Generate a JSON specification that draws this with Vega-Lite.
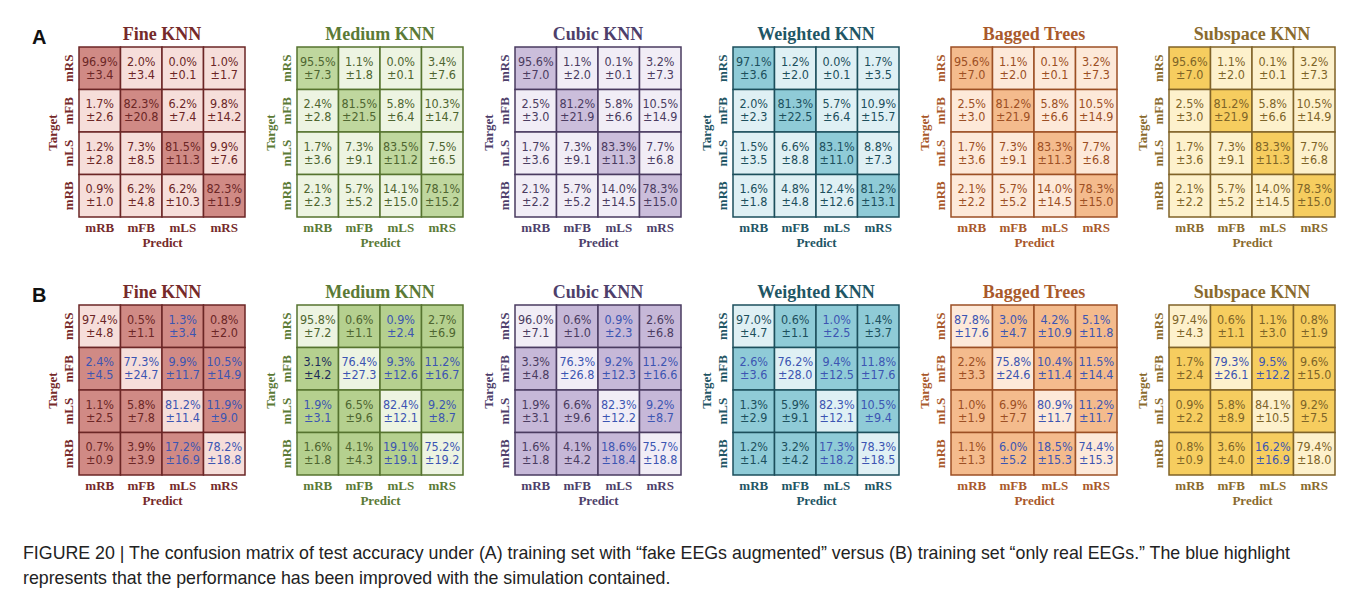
{
  "$schema": "https://vega.github.io/schema/vega-lite/v6.json",
  "background": "white",
  "padding": {"left": 23, "top": 26, "right": 10, "bottom": 2},
  "datasets": {
    "cm": [
      {"set":"A","model":"Fine KNN","t":"mRS","p":"mRB","m":96.9,"s":3.4,"imp":0},
      {"set":"A","model":"Fine KNN","t":"mRS","p":"mFB","m":2.0,"s":3.4,"imp":0},
      {"set":"A","model":"Fine KNN","t":"mRS","p":"mLS","m":0.0,"s":0.1,"imp":0},
      {"set":"A","model":"Fine KNN","t":"mRS","p":"mRS","m":1.0,"s":1.7,"imp":0},
      {"set":"A","model":"Fine KNN","t":"mFB","p":"mRB","m":1.7,"s":2.6,"imp":0},
      {"set":"A","model":"Fine KNN","t":"mFB","p":"mFB","m":82.3,"s":20.8,"imp":0},
      {"set":"A","model":"Fine KNN","t":"mFB","p":"mLS","m":6.2,"s":7.4,"imp":0},
      {"set":"A","model":"Fine KNN","t":"mFB","p":"mRS","m":9.8,"s":14.2,"imp":0},
      {"set":"A","model":"Fine KNN","t":"mLS","p":"mRB","m":1.2,"s":2.8,"imp":0},
      {"set":"A","model":"Fine KNN","t":"mLS","p":"mFB","m":7.3,"s":8.5,"imp":0},
      {"set":"A","model":"Fine KNN","t":"mLS","p":"mLS","m":81.5,"s":11.3,"imp":0},
      {"set":"A","model":"Fine KNN","t":"mLS","p":"mRS","m":9.9,"s":7.6,"imp":0},
      {"set":"A","model":"Fine KNN","t":"mRB","p":"mRB","m":0.9,"s":1.0,"imp":0},
      {"set":"A","model":"Fine KNN","t":"mRB","p":"mFB","m":6.2,"s":4.8,"imp":0},
      {"set":"A","model":"Fine KNN","t":"mRB","p":"mLS","m":6.2,"s":10.3,"imp":0},
      {"set":"A","model":"Fine KNN","t":"mRB","p":"mRS","m":82.3,"s":11.9,"imp":0},

      {"set":"A","model":"Medium KNN","t":"mRS","p":"mRB","m":95.5,"s":7.3,"imp":0},
      {"set":"A","model":"Medium KNN","t":"mRS","p":"mFB","m":1.1,"s":1.8,"imp":0},
      {"set":"A","model":"Medium KNN","t":"mRS","p":"mLS","m":0.0,"s":0.1,"imp":0},
      {"set":"A","model":"Medium KNN","t":"mRS","p":"mRS","m":3.4,"s":7.6,"imp":0},
      {"set":"A","model":"Medium KNN","t":"mFB","p":"mRB","m":2.4,"s":2.8,"imp":0},
      {"set":"A","model":"Medium KNN","t":"mFB","p":"mFB","m":81.5,"s":21.5,"imp":0},
      {"set":"A","model":"Medium KNN","t":"mFB","p":"mLS","m":5.8,"s":6.4,"imp":0},
      {"set":"A","model":"Medium KNN","t":"mFB","p":"mRS","m":10.3,"s":14.7,"imp":0},
      {"set":"A","model":"Medium KNN","t":"mLS","p":"mRB","m":1.7,"s":3.6,"imp":0},
      {"set":"A","model":"Medium KNN","t":"mLS","p":"mFB","m":7.3,"s":9.1,"imp":0},
      {"set":"A","model":"Medium KNN","t":"mLS","p":"mLS","m":83.5,"s":11.2,"imp":0},
      {"set":"A","model":"Medium KNN","t":"mLS","p":"mRS","m":7.5,"s":6.5,"imp":0},
      {"set":"A","model":"Medium KNN","t":"mRB","p":"mRB","m":2.1,"s":2.3,"imp":0},
      {"set":"A","model":"Medium KNN","t":"mRB","p":"mFB","m":5.7,"s":5.2,"imp":0},
      {"set":"A","model":"Medium KNN","t":"mRB","p":"mLS","m":14.1,"s":15.0,"imp":0},
      {"set":"A","model":"Medium KNN","t":"mRB","p":"mRS","m":78.1,"s":15.2,"imp":0},

      {"set":"A","model":"Cubic KNN","t":"mRS","p":"mRB","m":95.6,"s":7.0,"imp":0},
      {"set":"A","model":"Cubic KNN","t":"mRS","p":"mFB","m":1.1,"s":2.0,"imp":0},
      {"set":"A","model":"Cubic KNN","t":"mRS","p":"mLS","m":0.1,"s":0.1,"imp":0},
      {"set":"A","model":"Cubic KNN","t":"mRS","p":"mRS","m":3.2,"s":7.3,"imp":0},
      {"set":"A","model":"Cubic KNN","t":"mFB","p":"mRB","m":2.5,"s":3.0,"imp":0},
      {"set":"A","model":"Cubic KNN","t":"mFB","p":"mFB","m":81.2,"s":21.9,"imp":0},
      {"set":"A","model":"Cubic KNN","t":"mFB","p":"mLS","m":5.8,"s":6.6,"imp":0},
      {"set":"A","model":"Cubic KNN","t":"mFB","p":"mRS","m":10.5,"s":14.9,"imp":0},
      {"set":"A","model":"Cubic KNN","t":"mLS","p":"mRB","m":1.7,"s":3.6,"imp":0},
      {"set":"A","model":"Cubic KNN","t":"mLS","p":"mFB","m":7.3,"s":9.1,"imp":0},
      {"set":"A","model":"Cubic KNN","t":"mLS","p":"mLS","m":83.3,"s":11.3,"imp":0},
      {"set":"A","model":"Cubic KNN","t":"mLS","p":"mRS","m":7.7,"s":6.8,"imp":0},
      {"set":"A","model":"Cubic KNN","t":"mRB","p":"mRB","m":2.1,"s":2.2,"imp":0},
      {"set":"A","model":"Cubic KNN","t":"mRB","p":"mFB","m":5.7,"s":5.2,"imp":0},
      {"set":"A","model":"Cubic KNN","t":"mRB","p":"mLS","m":14.0,"s":14.5,"imp":0},
      {"set":"A","model":"Cubic KNN","t":"mRB","p":"mRS","m":78.3,"s":15.0,"imp":0},

      {"set":"A","model":"Weighted KNN","t":"mRS","p":"mRB","m":97.1,"s":3.6,"imp":0},
      {"set":"A","model":"Weighted KNN","t":"mRS","p":"mFB","m":1.2,"s":2.0,"imp":0},
      {"set":"A","model":"Weighted KNN","t":"mRS","p":"mLS","m":0.0,"s":0.1,"imp":0},
      {"set":"A","model":"Weighted KNN","t":"mRS","p":"mRS","m":1.7,"s":3.5,"imp":0},
      {"set":"A","model":"Weighted KNN","t":"mFB","p":"mRB","m":2.0,"s":2.3,"imp":0},
      {"set":"A","model":"Weighted KNN","t":"mFB","p":"mFB","m":81.3,"s":22.5,"imp":0},
      {"set":"A","model":"Weighted KNN","t":"mFB","p":"mLS","m":5.7,"s":6.4,"imp":0},
      {"set":"A","model":"Weighted KNN","t":"mFB","p":"mRS","m":10.9,"s":15.7,"imp":0},
      {"set":"A","model":"Weighted KNN","t":"mLS","p":"mRB","m":1.5,"s":3.5,"imp":0},
      {"set":"A","model":"Weighted KNN","t":"mLS","p":"mFB","m":6.6,"s":8.8,"imp":0},
      {"set":"A","model":"Weighted KNN","t":"mLS","p":"mLS","m":83.1,"s":11.0,"imp":0},
      {"set":"A","model":"Weighted KNN","t":"mLS","p":"mRS","m":8.8,"s":7.3,"imp":0},
      {"set":"A","model":"Weighted KNN","t":"mRB","p":"mRB","m":1.6,"s":1.8,"imp":0},
      {"set":"A","model":"Weighted KNN","t":"mRB","p":"mFB","m":4.8,"s":4.8,"imp":0},
      {"set":"A","model":"Weighted KNN","t":"mRB","p":"mLS","m":12.4,"s":12.6,"imp":0},
      {"set":"A","model":"Weighted KNN","t":"mRB","p":"mRS","m":81.2,"s":13.1,"imp":0},

      {"set":"A","model":"Bagged Trees","t":"mRS","p":"mRB","m":95.6,"s":7.0,"imp":0},
      {"set":"A","model":"Bagged Trees","t":"mRS","p":"mFB","m":1.1,"s":2.0,"imp":0},
      {"set":"A","model":"Bagged Trees","t":"mRS","p":"mLS","m":0.1,"s":0.1,"imp":0},
      {"set":"A","model":"Bagged Trees","t":"mRS","p":"mRS","m":3.2,"s":7.3,"imp":0},
      {"set":"A","model":"Bagged Trees","t":"mFB","p":"mRB","m":2.5,"s":3.0,"imp":0},
      {"set":"A","model":"Bagged Trees","t":"mFB","p":"mFB","m":81.2,"s":21.9,"imp":0},
      {"set":"A","model":"Bagged Trees","t":"mFB","p":"mLS","m":5.8,"s":6.6,"imp":0},
      {"set":"A","model":"Bagged Trees","t":"mFB","p":"mRS","m":10.5,"s":14.9,"imp":0},
      {"set":"A","model":"Bagged Trees","t":"mLS","p":"mRB","m":1.7,"s":3.6,"imp":0},
      {"set":"A","model":"Bagged Trees","t":"mLS","p":"mFB","m":7.3,"s":9.1,"imp":0},
      {"set":"A","model":"Bagged Trees","t":"mLS","p":"mLS","m":83.3,"s":11.3,"imp":0},
      {"set":"A","model":"Bagged Trees","t":"mLS","p":"mRS","m":7.7,"s":6.8,"imp":0},
      {"set":"A","model":"Bagged Trees","t":"mRB","p":"mRB","m":2.1,"s":2.2,"imp":0},
      {"set":"A","model":"Bagged Trees","t":"mRB","p":"mFB","m":5.7,"s":5.2,"imp":0},
      {"set":"A","model":"Bagged Trees","t":"mRB","p":"mLS","m":14.0,"s":14.5,"imp":0},
      {"set":"A","model":"Bagged Trees","t":"mRB","p":"mRS","m":78.3,"s":15.0,"imp":0},

      {"set":"A","model":"Subspace KNN","t":"mRS","p":"mRB","m":95.6,"s":7.0,"imp":0},
      {"set":"A","model":"Subspace KNN","t":"mRS","p":"mFB","m":1.1,"s":2.0,"imp":0},
      {"set":"A","model":"Subspace KNN","t":"mRS","p":"mLS","m":0.1,"s":0.1,"imp":0},
      {"set":"A","model":"Subspace KNN","t":"mRS","p":"mRS","m":3.2,"s":7.3,"imp":0},
      {"set":"A","model":"Subspace KNN","t":"mFB","p":"mRB","m":2.5,"s":3.0,"imp":0},
      {"set":"A","model":"Subspace KNN","t":"mFB","p":"mFB","m":81.2,"s":21.9,"imp":0},
      {"set":"A","model":"Subspace KNN","t":"mFB","p":"mLS","m":5.8,"s":6.6,"imp":0},
      {"set":"A","model":"Subspace KNN","t":"mFB","p":"mRS","m":10.5,"s":14.9,"imp":0},
      {"set":"A","model":"Subspace KNN","t":"mLS","p":"mRB","m":1.7,"s":3.6,"imp":0},
      {"set":"A","model":"Subspace KNN","t":"mLS","p":"mFB","m":7.3,"s":9.1,"imp":0},
      {"set":"A","model":"Subspace KNN","t":"mLS","p":"mLS","m":83.3,"s":11.3,"imp":0},
      {"set":"A","model":"Subspace KNN","t":"mLS","p":"mRS","m":7.7,"s":6.8,"imp":0},
      {"set":"A","model":"Subspace KNN","t":"mRB","p":"mRB","m":2.1,"s":2.2,"imp":0},
      {"set":"A","model":"Subspace KNN","t":"mRB","p":"mFB","m":5.7,"s":5.2,"imp":0},
      {"set":"A","model":"Subspace KNN","t":"mRB","p":"mLS","m":14.0,"s":14.5,"imp":0},
      {"set":"A","model":"Subspace KNN","t":"mRB","p":"mRS","m":78.3,"s":15.0,"imp":0},

      {"set":"B","model":"Fine KNN","t":"mRS","p":"mRB","m":97.4,"s":4.8,"imp":0},
      {"set":"B","model":"Fine KNN","t":"mRS","p":"mFB","m":0.5,"s":1.1,"imp":0},
      {"set":"B","model":"Fine KNN","t":"mRS","p":"mLS","m":1.3,"s":3.4,"imp":1},
      {"set":"B","model":"Fine KNN","t":"mRS","p":"mRS","m":0.8,"s":2.0,"imp":0},
      {"set":"B","model":"Fine KNN","t":"mFB","p":"mRB","m":2.4,"s":4.5,"imp":1},
      {"set":"B","model":"Fine KNN","t":"mFB","p":"mFB","m":77.3,"s":24.7,"imp":1},
      {"set":"B","model":"Fine KNN","t":"mFB","p":"mLS","m":9.9,"s":11.7,"imp":1},
      {"set":"B","model":"Fine KNN","t":"mFB","p":"mRS","m":10.5,"s":14.9,"imp":1},
      {"set":"B","model":"Fine KNN","t":"mLS","p":"mRB","m":1.1,"s":2.5,"imp":0},
      {"set":"B","model":"Fine KNN","t":"mLS","p":"mFB","m":5.8,"s":7.8,"imp":0},
      {"set":"B","model":"Fine KNN","t":"mLS","p":"mLS","m":81.2,"s":11.4,"imp":1},
      {"set":"B","model":"Fine KNN","t":"mLS","p":"mRS","m":11.9,"s":9.0,"imp":1},
      {"set":"B","model":"Fine KNN","t":"mRB","p":"mRB","m":0.7,"s":0.9,"imp":0},
      {"set":"B","model":"Fine KNN","t":"mRB","p":"mFB","m":3.9,"s":3.9,"imp":0},
      {"set":"B","model":"Fine KNN","t":"mRB","p":"mLS","m":17.2,"s":16.9,"imp":1},
      {"set":"B","model":"Fine KNN","t":"mRB","p":"mRS","m":78.2,"s":18.8,"imp":1},

      {"set":"B","model":"Medium KNN","t":"mRS","p":"mRB","m":95.8,"s":7.2,"imp":0},
      {"set":"B","model":"Medium KNN","t":"mRS","p":"mFB","m":0.6,"s":1.1,"imp":0},
      {"set":"B","model":"Medium KNN","t":"mRS","p":"mLS","m":0.9,"s":2.4,"imp":1},
      {"set":"B","model":"Medium KNN","t":"mRS","p":"mRS","m":2.7,"s":6.9,"imp":0},
      {"set":"B","model":"Medium KNN","t":"mFB","p":"mRB","m":3.1,"s":4.2,"imp":2},
      {"set":"B","model":"Medium KNN","t":"mFB","p":"mFB","m":76.4,"s":27.3,"imp":1},
      {"set":"B","model":"Medium KNN","t":"mFB","p":"mLS","m":9.3,"s":12.6,"imp":1},
      {"set":"B","model":"Medium KNN","t":"mFB","p":"mRS","m":11.2,"s":16.7,"imp":1},
      {"set":"B","model":"Medium KNN","t":"mLS","p":"mRB","m":1.9,"s":3.1,"imp":1},
      {"set":"B","model":"Medium KNN","t":"mLS","p":"mFB","m":6.5,"s":9.6,"imp":0},
      {"set":"B","model":"Medium KNN","t":"mLS","p":"mLS","m":82.4,"s":12.1,"imp":1},
      {"set":"B","model":"Medium KNN","t":"mLS","p":"mRS","m":9.2,"s":8.7,"imp":1},
      {"set":"B","model":"Medium KNN","t":"mRB","p":"mRB","m":1.6,"s":1.8,"imp":0},
      {"set":"B","model":"Medium KNN","t":"mRB","p":"mFB","m":4.1,"s":4.3,"imp":0},
      {"set":"B","model":"Medium KNN","t":"mRB","p":"mLS","m":19.1,"s":19.1,"imp":1},
      {"set":"B","model":"Medium KNN","t":"mRB","p":"mRS","m":75.2,"s":19.2,"imp":1},

      {"set":"B","model":"Cubic KNN","t":"mRS","p":"mRB","m":96.0,"s":7.1,"imp":0},
      {"set":"B","model":"Cubic KNN","t":"mRS","p":"mFB","m":0.6,"s":1.0,"imp":0},
      {"set":"B","model":"Cubic KNN","t":"mRS","p":"mLS","m":0.9,"s":2.3,"imp":1},
      {"set":"B","model":"Cubic KNN","t":"mRS","p":"mRS","m":2.6,"s":6.8,"imp":0},
      {"set":"B","model":"Cubic KNN","t":"mFB","p":"mRB","m":3.3,"s":4.8,"imp":0},
      {"set":"B","model":"Cubic KNN","t":"mFB","p":"mFB","m":76.3,"s":26.8,"imp":1},
      {"set":"B","model":"Cubic KNN","t":"mFB","p":"mLS","m":9.2,"s":12.3,"imp":1},
      {"set":"B","model":"Cubic KNN","t":"mFB","p":"mRS","m":11.2,"s":16.6,"imp":1},
      {"set":"B","model":"Cubic KNN","t":"mLS","p":"mRB","m":1.9,"s":3.1,"imp":0},
      {"set":"B","model":"Cubic KNN","t":"mLS","p":"mFB","m":6.6,"s":9.6,"imp":0},
      {"set":"B","model":"Cubic KNN","t":"mLS","p":"mLS","m":82.3,"s":12.2,"imp":1},
      {"set":"B","model":"Cubic KNN","t":"mLS","p":"mRS","m":9.2,"s":8.7,"imp":1},
      {"set":"B","model":"Cubic KNN","t":"mRB","p":"mRB","m":1.6,"s":1.8,"imp":0},
      {"set":"B","model":"Cubic KNN","t":"mRB","p":"mFB","m":4.1,"s":4.2,"imp":0},
      {"set":"B","model":"Cubic KNN","t":"mRB","p":"mLS","m":18.6,"s":18.4,"imp":1},
      {"set":"B","model":"Cubic KNN","t":"mRB","p":"mRS","m":75.7,"s":18.8,"imp":1},

      {"set":"B","model":"Weighted KNN","t":"mRS","p":"mRB","m":97.0,"s":4.7,"imp":0},
      {"set":"B","model":"Weighted KNN","t":"mRS","p":"mFB","m":0.6,"s":1.1,"imp":0},
      {"set":"B","model":"Weighted KNN","t":"mRS","p":"mLS","m":1.0,"s":2.5,"imp":1},
      {"set":"B","model":"Weighted KNN","t":"mRS","p":"mRS","m":1.4,"s":3.7,"imp":0},
      {"set":"B","model":"Weighted KNN","t":"mFB","p":"mRB","m":2.6,"s":3.6,"imp":1},
      {"set":"B","model":"Weighted KNN","t":"mFB","p":"mFB","m":76.2,"s":28.0,"imp":1},
      {"set":"B","model":"Weighted KNN","t":"mFB","p":"mLS","m":9.4,"s":12.5,"imp":1},
      {"set":"B","model":"Weighted KNN","t":"mFB","p":"mRS","m":11.8,"s":17.6,"imp":1},
      {"set":"B","model":"Weighted KNN","t":"mLS","p":"mRB","m":1.3,"s":2.9,"imp":0},
      {"set":"B","model":"Weighted KNN","t":"mLS","p":"mFB","m":5.9,"s":9.1,"imp":0},
      {"set":"B","model":"Weighted KNN","t":"mLS","p":"mLS","m":82.3,"s":12.1,"imp":1},
      {"set":"B","model":"Weighted KNN","t":"mLS","p":"mRS","m":10.5,"s":9.4,"imp":1},
      {"set":"B","model":"Weighted KNN","t":"mRB","p":"mRB","m":1.2,"s":1.4,"imp":0},
      {"set":"B","model":"Weighted KNN","t":"mRB","p":"mFB","m":3.2,"s":4.2,"imp":0},
      {"set":"B","model":"Weighted KNN","t":"mRB","p":"mLS","m":17.3,"s":18.2,"imp":1},
      {"set":"B","model":"Weighted KNN","t":"mRB","p":"mRS","m":78.3,"s":18.5,"imp":1},

      {"set":"B","model":"Bagged Trees","t":"mRS","p":"mRB","m":87.8,"s":17.6,"imp":1},
      {"set":"B","model":"Bagged Trees","t":"mRS","p":"mFB","m":3.0,"s":4.7,"imp":1},
      {"set":"B","model":"Bagged Trees","t":"mRS","p":"mLS","m":4.2,"s":10.9,"imp":1},
      {"set":"B","model":"Bagged Trees","t":"mRS","p":"mRS","m":5.1,"s":11.8,"imp":1},
      {"set":"B","model":"Bagged Trees","t":"mFB","p":"mRB","m":2.2,"s":3.3,"imp":0},
      {"set":"B","model":"Bagged Trees","t":"mFB","p":"mFB","m":75.8,"s":24.6,"imp":1},
      {"set":"B","model":"Bagged Trees","t":"mFB","p":"mLS","m":10.4,"s":11.4,"imp":1},
      {"set":"B","model":"Bagged Trees","t":"mFB","p":"mRS","m":11.5,"s":14.4,"imp":1},
      {"set":"B","model":"Bagged Trees","t":"mLS","p":"mRB","m":1.0,"s":1.9,"imp":0},
      {"set":"B","model":"Bagged Trees","t":"mLS","p":"mFB","m":6.9,"s":7.7,"imp":0},
      {"set":"B","model":"Bagged Trees","t":"mLS","p":"mLS","m":80.9,"s":11.7,"imp":1},
      {"set":"B","model":"Bagged Trees","t":"mLS","p":"mRS","m":11.2,"s":11.7,"imp":1},
      {"set":"B","model":"Bagged Trees","t":"mRB","p":"mRB","m":1.1,"s":1.3,"imp":0},
      {"set":"B","model":"Bagged Trees","t":"mRB","p":"mFB","m":6.0,"s":5.2,"imp":1},
      {"set":"B","model":"Bagged Trees","t":"mRB","p":"mLS","m":18.5,"s":15.3,"imp":1},
      {"set":"B","model":"Bagged Trees","t":"mRB","p":"mRS","m":74.4,"s":15.3,"imp":1},

      {"set":"B","model":"Subspace KNN","t":"mRS","p":"mRB","m":97.4,"s":4.3,"imp":0},
      {"set":"B","model":"Subspace KNN","t":"mRS","p":"mFB","m":0.6,"s":1.1,"imp":0},
      {"set":"B","model":"Subspace KNN","t":"mRS","p":"mLS","m":1.1,"s":3.0,"imp":0},
      {"set":"B","model":"Subspace KNN","t":"mRS","p":"mRS","m":0.8,"s":1.9,"imp":0},
      {"set":"B","model":"Subspace KNN","t":"mFB","p":"mRB","m":1.7,"s":2.4,"imp":0},
      {"set":"B","model":"Subspace KNN","t":"mFB","p":"mFB","m":79.3,"s":26.1,"imp":1},
      {"set":"B","model":"Subspace KNN","t":"mFB","p":"mLS","m":9.5,"s":12.2,"imp":1},
      {"set":"B","model":"Subspace KNN","t":"mFB","p":"mRS","m":9.6,"s":15.0,"imp":0},
      {"set":"B","model":"Subspace KNN","t":"mLS","p":"mRB","m":0.9,"s":2.2,"imp":0},
      {"set":"B","model":"Subspace KNN","t":"mLS","p":"mFB","m":5.8,"s":8.9,"imp":0},
      {"set":"B","model":"Subspace KNN","t":"mLS","p":"mLS","m":84.1,"s":10.5,"imp":0},
      {"set":"B","model":"Subspace KNN","t":"mLS","p":"mRS","m":9.2,"s":7.5,"imp":0},
      {"set":"B","model":"Subspace KNN","t":"mRB","p":"mRB","m":0.8,"s":0.9,"imp":0},
      {"set":"B","model":"Subspace KNN","t":"mRB","p":"mFB","m":3.6,"s":4.0,"imp":0},
      {"set":"B","model":"Subspace KNN","t":"mRB","p":"mLS","m":16.2,"s":16.9,"imp":1},
      {"set":"B","model":"Subspace KNN","t":"mRB","p":"mRS","m":79.4,"s":18.0,"imp":0}
    ]
  },
  "title": {
    "text": [
      "FIGURE 20 | The confusion matrix of test accuracy under (A) training set with “fake EEGs augmented” versus (B) training set “only real EEGs.” The blue highlight",
      "represents that the performance has been improved with the simulation contained."
    ],
    "orient": "bottom",
    "anchor": "start",
    "font": "Liberation Sans",
    "fontSize": 17.8,
    "fontWeight": "normal",
    "color": "#222222",
    "lineHeight": 25,
    "offset": 38,
    "dx": -9
  },
  "spacing": 35,
  "vconcat": [
    {
      "title": {"text": "A", "anchor": "start", "font": "Liberation Sans", "fontSize": 20, "fontWeight": "bold", "color": "#111111", "offset": -22, "dx": -14},
      "spacing": 18,
      "hconcat": [
        {
          "width": 166, "height": 170,
          "title": {"text": "Fine KNN", "color": "#762a2a"},
          "data": {"name": "cm"},
          "transform": [
            {"filter": "datum.set === 'A' && datum.model === 'Fine KNN'"},
            {"calculate": "indexof(['mRS','mFB','mLS','mRB'], datum.t) === indexof(['mRB','mFB','mLS','mRS'], datum.p)", "as": "diag"},
            {"calculate": "format(datum.m, '.1f') + '%'", "as": "l1"},
            {"calculate": "'±' + format(datum.s, '.1f')", "as": "l2"}
          ],
          "encoding": {
            "x": {"field": "p", "type": "nominal", "sort": ["mRB","mFB","mLS","mRS"], "title": "Predict", "axis": {"labelColor": "#762a2a", "titleColor": "#762a2a"}},
            "y": {"field": "t", "type": "nominal", "sort": ["mRS","mFB","mLS","mRB"], "title": "Target", "axis": {"labelColor": "#762a2a", "titleColor": "#762a2a"}}
          },
          "layer": [
            {"mark": {"type": "rect", "stroke": "#6b2626", "strokeWidth": 1.5}, "encoding": {"fill": {"condition": {"test": "datum.diag", "value": "#d08a85"}, "value": "#f6deda"}}},
            {"mark": {"type": "text", "dy": -6.5}, "encoding": {"text": {"field": "l1"}, "color": {"condition": [{"test": "datum.imp === 1", "value": "#3c55b2"}, {"test": "datum.imp === 2", "value": "#1c2b5a"}], "value": "#6b2626"}}},
            {"mark": {"type": "text", "dy": 6.5}, "encoding": {"text": {"field": "l2"}, "color": {"condition": [{"test": "datum.imp === 1", "value": "#3c55b2"}, {"test": "datum.imp === 2", "value": "#1c2b5a"}], "value": "#6b2626"}}}
          ]
        },
        {
          "width": 166, "height": 170,
          "title": {"text": "Medium KNN", "color": "#5b7a36"},
          "data": {"name": "cm"},
          "transform": [
            {"filter": "datum.set === 'A' && datum.model === 'Medium KNN'"},
            {"calculate": "indexof(['mRS','mFB','mLS','mRB'], datum.t) === indexof(['mRB','mFB','mLS','mRS'], datum.p)", "as": "diag"},
            {"calculate": "format(datum.m, '.1f') + '%'", "as": "l1"},
            {"calculate": "'±' + format(datum.s, '.1f')", "as": "l2"}
          ],
          "encoding": {
            "x": {"field": "p", "type": "nominal", "sort": ["mRB","mFB","mLS","mRS"], "title": "Predict", "axis": {"labelColor": "#5b7a36", "titleColor": "#5b7a36"}},
            "y": {"field": "t", "type": "nominal", "sort": ["mRS","mFB","mLS","mRB"], "title": "Target", "axis": {"labelColor": "#5b7a36", "titleColor": "#5b7a36"}}
          },
          "layer": [
            {"mark": {"type": "rect", "stroke": "#56732f", "strokeWidth": 1.5}, "encoding": {"fill": {"condition": {"test": "datum.diag", "value": "#bfd79e"}, "value": "#edf4e2"}}},
            {"mark": {"type": "text", "dy": -6.5}, "encoding": {"text": {"field": "l1"}, "color": {"condition": [{"test": "datum.imp === 1", "value": "#3c55b2"}, {"test": "datum.imp === 2", "value": "#1c2b5a"}], "value": "#4e6530"}}},
            {"mark": {"type": "text", "dy": 6.5}, "encoding": {"text": {"field": "l2"}, "color": {"condition": [{"test": "datum.imp === 1", "value": "#3c55b2"}, {"test": "datum.imp === 2", "value": "#1c2b5a"}], "value": "#4e6530"}}}
          ]
        },
        {
          "width": 166, "height": 170,
          "title": {"text": "Cubic KNN", "color": "#4e3f6b"},
          "data": {"name": "cm"},
          "transform": [
            {"filter": "datum.set === 'A' && datum.model === 'Cubic KNN'"},
            {"calculate": "indexof(['mRS','mFB','mLS','mRB'], datum.t) === indexof(['mRB','mFB','mLS','mRS'], datum.p)", "as": "diag"},
            {"calculate": "format(datum.m, '.1f') + '%'", "as": "l1"},
            {"calculate": "'±' + format(datum.s, '.1f')", "as": "l2"}
          ],
          "encoding": {
            "x": {"field": "p", "type": "nominal", "sort": ["mRB","mFB","mLS","mRS"], "title": "Predict", "axis": {"labelColor": "#4e3f6b", "titleColor": "#4e3f6b"}},
            "y": {"field": "t", "type": "nominal", "sort": ["mRS","mFB","mLS","mRB"], "title": "Target", "axis": {"labelColor": "#4e3f6b", "titleColor": "#4e3f6b"}}
          },
          "layer": [
            {"mark": {"type": "rect", "stroke": "#4a3b60", "strokeWidth": 1.5}, "encoding": {"fill": {"condition": {"test": "datum.diag", "value": "#cbbedb"}, "value": "#f1edf6"}}},
            {"mark": {"type": "text", "dy": -6.5}, "encoding": {"text": {"field": "l1"}, "color": {"condition": [{"test": "datum.imp === 1", "value": "#3c55b2"}, {"test": "datum.imp === 2", "value": "#1c2b5a"}], "value": "#4a3b60"}}},
            {"mark": {"type": "text", "dy": 6.5}, "encoding": {"text": {"field": "l2"}, "color": {"condition": [{"test": "datum.imp === 1", "value": "#3c55b2"}, {"test": "datum.imp === 2", "value": "#1c2b5a"}], "value": "#4a3b60"}}}
          ]
        },
        {
          "width": 166, "height": 170,
          "title": {"text": "Weighted KNN", "color": "#1f5665"},
          "data": {"name": "cm"},
          "transform": [
            {"filter": "datum.set === 'A' && datum.model === 'Weighted KNN'"},
            {"calculate": "indexof(['mRS','mFB','mLS','mRB'], datum.t) === indexof(['mRB','mFB','mLS','mRS'], datum.p)", "as": "diag"},
            {"calculate": "format(datum.m, '.1f') + '%'", "as": "l1"},
            {"calculate": "'±' + format(datum.s, '.1f')", "as": "l2"}
          ],
          "encoding": {
            "x": {"field": "p", "type": "nominal", "sort": ["mRB","mFB","mLS","mRS"], "title": "Predict", "axis": {"labelColor": "#1f5665", "titleColor": "#1f5665"}},
            "y": {"field": "t", "type": "nominal", "sort": ["mRS","mFB","mLS","mRB"], "title": "Target", "axis": {"labelColor": "#1f5665", "titleColor": "#1f5665"}}
          },
          "layer": [
            {"mark": {"type": "rect", "stroke": "#1c4f5c", "strokeWidth": 1.5}, "encoding": {"fill": {"condition": {"test": "datum.diag", "value": "#8fcbd7"}, "value": "#dff0f4"}}},
            {"mark": {"type": "text", "dy": -6.5}, "encoding": {"text": {"field": "l1"}, "color": {"condition": [{"test": "datum.imp === 1", "value": "#3c55b2"}, {"test": "datum.imp === 2", "value": "#1c2b5a"}], "value": "#1c4f5c"}}},
            {"mark": {"type": "text", "dy": 6.5}, "encoding": {"text": {"field": "l2"}, "color": {"condition": [{"test": "datum.imp === 1", "value": "#3c55b2"}, {"test": "datum.imp === 2", "value": "#1c2b5a"}], "value": "#1c4f5c"}}}
          ]
        },
        {
          "width": 166, "height": 170,
          "title": {"text": "Bagged Trees", "color": "#a9592b"},
          "data": {"name": "cm"},
          "transform": [
            {"filter": "datum.set === 'A' && datum.model === 'Bagged Trees'"},
            {"calculate": "indexof(['mRS','mFB','mLS','mRB'], datum.t) === indexof(['mRB','mFB','mLS','mRS'], datum.p)", "as": "diag"},
            {"calculate": "format(datum.m, '.1f') + '%'", "as": "l1"},
            {"calculate": "'±' + format(datum.s, '.1f')", "as": "l2"}
          ],
          "encoding": {
            "x": {"field": "p", "type": "nominal", "sort": ["mRB","mFB","mLS","mRS"], "title": "Predict", "axis": {"labelColor": "#a9592b", "titleColor": "#a9592b"}},
            "y": {"field": "t", "type": "nominal", "sort": ["mRS","mFB","mLS","mRB"], "title": "Target", "axis": {"labelColor": "#a9592b", "titleColor": "#a9592b"}}
          },
          "layer": [
            {"mark": {"type": "rect", "stroke": "#9c4f24", "strokeWidth": 1.5}, "encoding": {"fill": {"condition": {"test": "datum.diag", "value": "#f4bb8d"}, "value": "#fde9d9"}}},
            {"mark": {"type": "text", "dy": -6.5}, "encoding": {"text": {"field": "l1"}, "color": {"condition": [{"test": "datum.imp === 1", "value": "#3c55b2"}, {"test": "datum.imp === 2", "value": "#1c2b5a"}], "value": "#9c4f24"}}},
            {"mark": {"type": "text", "dy": 6.5}, "encoding": {"text": {"field": "l2"}, "color": {"condition": [{"test": "datum.imp === 1", "value": "#3c55b2"}, {"test": "datum.imp === 2", "value": "#1c2b5a"}], "value": "#9c4f24"}}}
          ]
        },
        {
          "width": 166, "height": 170,
          "title": {"text": "Subspace KNN", "color": "#8a6b2e"},
          "data": {"name": "cm"},
          "transform": [
            {"filter": "datum.set === 'A' && datum.model === 'Subspace KNN'"},
            {"calculate": "indexof(['mRS','mFB','mLS','mRB'], datum.t) === indexof(['mRB','mFB','mLS','mRS'], datum.p)", "as": "diag"},
            {"calculate": "format(datum.m, '.1f') + '%'", "as": "l1"},
            {"calculate": "'±' + format(datum.s, '.1f')", "as": "l2"}
          ],
          "encoding": {
            "x": {"field": "p", "type": "nominal", "sort": ["mRB","mFB","mLS","mRS"], "title": "Predict", "axis": {"labelColor": "#8a6b2e", "titleColor": "#8a6b2e"}},
            "y": {"field": "t", "type": "nominal", "sort": ["mRS","mFB","mLS","mRB"], "title": "Target", "axis": {"labelColor": "#8a6b2e", "titleColor": "#8a6b2e"}}
          },
          "layer": [
            {"mark": {"type": "rect", "stroke": "#806328", "strokeWidth": 1.5}, "encoding": {"fill": {"condition": {"test": "datum.diag", "value": "#f6cd5f"}, "value": "#fdf1cc"}}},
            {"mark": {"type": "text", "dy": -6.5}, "encoding": {"text": {"field": "l1"}, "color": {"condition": [{"test": "datum.imp === 1", "value": "#3c55b2"}, {"test": "datum.imp === 2", "value": "#1c2b5a"}], "value": "#7d6428"}}},
            {"mark": {"type": "text", "dy": 6.5}, "encoding": {"text": {"field": "l2"}, "color": {"condition": [{"test": "datum.imp === 1", "value": "#3c55b2"}, {"test": "datum.imp === 2", "value": "#1c2b5a"}], "value": "#7d6428"}}}
          ]
        }
      ]
    },
    {
      "title": {"text": "B", "anchor": "start", "font": "Liberation Sans", "fontSize": 20, "fontWeight": "bold", "color": "#111111", "offset": -22, "dx": -14},
      "spacing": 18,
      "hconcat": [
        {
          "width": 166, "height": 170,
          "title": {"text": "Fine KNN", "color": "#762a2a"},
          "data": {"name": "cm"},
          "transform": [
            {"filter": "datum.set === 'B' && datum.model === 'Fine KNN'"},
            {"calculate": "indexof(['mRS','mFB','mLS','mRB'], datum.t) === indexof(['mRB','mFB','mLS','mRS'], datum.p)", "as": "diag"},
            {"calculate": "format(datum.m, '.1f') + '%'", "as": "l1"},
            {"calculate": "'±' + format(datum.s, '.1f')", "as": "l2"}
          ],
          "encoding": {
            "x": {"field": "p", "type": "nominal", "sort": ["mRB","mFB","mLS","mRS"], "title": "Predict", "axis": {"labelColor": "#762a2a", "titleColor": "#762a2a"}},
            "y": {"field": "t", "type": "nominal", "sort": ["mRS","mFB","mLS","mRB"], "title": "Target", "axis": {"labelColor": "#762a2a", "titleColor": "#762a2a"}}
          },
          "layer": [
            {"mark": {"type": "rect", "stroke": "#6b2626", "strokeWidth": 1.5}, "encoding": {"fill": {"condition": {"test": "datum.diag", "value": "#f6deda"}, "value": "#d08a85"}}},
            {"mark": {"type": "text", "dy": -6.5}, "encoding": {"text": {"field": "l1"}, "color": {"condition": [{"test": "datum.imp === 1", "value": "#3c55b2"}, {"test": "datum.imp === 2", "value": "#1c2b5a"}], "value": "#6b2626"}}},
            {"mark": {"type": "text", "dy": 6.5}, "encoding": {"text": {"field": "l2"}, "color": {"condition": [{"test": "datum.imp === 1", "value": "#3c55b2"}, {"test": "datum.imp === 2", "value": "#1c2b5a"}], "value": "#6b2626"}}}
          ]
        },
        {
          "width": 166, "height": 170,
          "title": {"text": "Medium KNN", "color": "#5b7a36"},
          "data": {"name": "cm"},
          "transform": [
            {"filter": "datum.set === 'B' && datum.model === 'Medium KNN'"},
            {"calculate": "indexof(['mRS','mFB','mLS','mRB'], datum.t) === indexof(['mRB','mFB','mLS','mRS'], datum.p)", "as": "diag"},
            {"calculate": "format(datum.m, '.1f') + '%'", "as": "l1"},
            {"calculate": "'±' + format(datum.s, '.1f')", "as": "l2"}
          ],
          "encoding": {
            "x": {"field": "p", "type": "nominal", "sort": ["mRB","mFB","mLS","mRS"], "title": "Predict", "axis": {"labelColor": "#5b7a36", "titleColor": "#5b7a36"}},
            "y": {"field": "t", "type": "nominal", "sort": ["mRS","mFB","mLS","mRB"], "title": "Target", "axis": {"labelColor": "#5b7a36", "titleColor": "#5b7a36"}}
          },
          "layer": [
            {"mark": {"type": "rect", "stroke": "#56732f", "strokeWidth": 1.5}, "encoding": {"fill": {"condition": {"test": "datum.diag", "value": "#edf4e2"}, "value": "#b5d08f"}}},
            {"mark": {"type": "text", "dy": -6.5}, "encoding": {"text": {"field": "l1"}, "color": {"condition": [{"test": "datum.imp === 1", "value": "#3c55b2"}, {"test": "datum.imp === 2", "value": "#1c2b5a"}], "value": "#4e6530"}}},
            {"mark": {"type": "text", "dy": 6.5}, "encoding": {"text": {"field": "l2"}, "color": {"condition": [{"test": "datum.imp === 1", "value": "#3c55b2"}, {"test": "datum.imp === 2", "value": "#1c2b5a"}], "value": "#4e6530"}}}
          ]
        },
        {
          "width": 166, "height": 170,
          "title": {"text": "Cubic KNN", "color": "#4e3f6b"},
          "data": {"name": "cm"},
          "transform": [
            {"filter": "datum.set === 'B' && datum.model === 'Cubic KNN'"},
            {"calculate": "indexof(['mRS','mFB','mLS','mRB'], datum.t) === indexof(['mRB','mFB','mLS','mRS'], datum.p)", "as": "diag"},
            {"calculate": "format(datum.m, '.1f') + '%'", "as": "l1"},
            {"calculate": "'±' + format(datum.s, '.1f')", "as": "l2"}
          ],
          "encoding": {
            "x": {"field": "p", "type": "nominal", "sort": ["mRB","mFB","mLS","mRS"], "title": "Predict", "axis": {"labelColor": "#4e3f6b", "titleColor": "#4e3f6b"}},
            "y": {"field": "t", "type": "nominal", "sort": ["mRS","mFB","mLS","mRB"], "title": "Target", "axis": {"labelColor": "#4e3f6b", "titleColor": "#4e3f6b"}}
          },
          "layer": [
            {"mark": {"type": "rect", "stroke": "#4a3b60", "strokeWidth": 1.5}, "encoding": {"fill": {"condition": {"test": "datum.diag", "value": "#f1edf6"}, "value": "#c6b8d8"}}},
            {"mark": {"type": "text", "dy": -6.5}, "encoding": {"text": {"field": "l1"}, "color": {"condition": [{"test": "datum.imp === 1", "value": "#3c55b2"}, {"test": "datum.imp === 2", "value": "#1c2b5a"}], "value": "#4a3b60"}}},
            {"mark": {"type": "text", "dy": 6.5}, "encoding": {"text": {"field": "l2"}, "color": {"condition": [{"test": "datum.imp === 1", "value": "#3c55b2"}, {"test": "datum.imp === 2", "value": "#1c2b5a"}], "value": "#4a3b60"}}}
          ]
        },
        {
          "width": 166, "height": 170,
          "title": {"text": "Weighted KNN", "color": "#1f5665"},
          "data": {"name": "cm"},
          "transform": [
            {"filter": "datum.set === 'B' && datum.model === 'Weighted KNN'"},
            {"calculate": "indexof(['mRS','mFB','mLS','mRB'], datum.t) === indexof(['mRB','mFB','mLS','mRS'], datum.p)", "as": "diag"},
            {"calculate": "format(datum.m, '.1f') + '%'", "as": "l1"},
            {"calculate": "'±' + format(datum.s, '.1f')", "as": "l2"}
          ],
          "encoding": {
            "x": {"field": "p", "type": "nominal", "sort": ["mRB","mFB","mLS","mRS"], "title": "Predict", "axis": {"labelColor": "#1f5665", "titleColor": "#1f5665"}},
            "y": {"field": "t", "type": "nominal", "sort": ["mRS","mFB","mLS","mRB"], "title": "Target", "axis": {"labelColor": "#1f5665", "titleColor": "#1f5665"}}
          },
          "layer": [
            {"mark": {"type": "rect", "stroke": "#1c4f5c", "strokeWidth": 1.5}, "encoding": {"fill": {"condition": {"test": "datum.diag", "value": "#dff0f4"}, "value": "#8fcbd7"}}},
            {"mark": {"type": "text", "dy": -6.5}, "encoding": {"text": {"field": "l1"}, "color": {"condition": [{"test": "datum.imp === 1", "value": "#3c55b2"}, {"test": "datum.imp === 2", "value": "#1c2b5a"}], "value": "#1c4f5c"}}},
            {"mark": {"type": "text", "dy": 6.5}, "encoding": {"text": {"field": "l2"}, "color": {"condition": [{"test": "datum.imp === 1", "value": "#3c55b2"}, {"test": "datum.imp === 2", "value": "#1c2b5a"}], "value": "#1c4f5c"}}}
          ]
        },
        {
          "width": 166, "height": 170,
          "title": {"text": "Bagged Trees", "color": "#a9592b"},
          "data": {"name": "cm"},
          "transform": [
            {"filter": "datum.set === 'B' && datum.model === 'Bagged Trees'"},
            {"calculate": "indexof(['mRS','mFB','mLS','mRB'], datum.t) === indexof(['mRB','mFB','mLS','mRS'], datum.p)", "as": "diag"},
            {"calculate": "format(datum.m, '.1f') + '%'", "as": "l1"},
            {"calculate": "'±' + format(datum.s, '.1f')", "as": "l2"}
          ],
          "encoding": {
            "x": {"field": "p", "type": "nominal", "sort": ["mRB","mFB","mLS","mRS"], "title": "Predict", "axis": {"labelColor": "#a9592b", "titleColor": "#a9592b"}},
            "y": {"field": "t", "type": "nominal", "sort": ["mRS","mFB","mLS","mRB"], "title": "Target", "axis": {"labelColor": "#a9592b", "titleColor": "#a9592b"}}
          },
          "layer": [
            {"mark": {"type": "rect", "stroke": "#9c4f24", "strokeWidth": 1.5}, "encoding": {"fill": {"condition": {"test": "datum.diag", "value": "#fde9d9"}, "value": "#f4bb8d"}}},
            {"mark": {"type": "text", "dy": -6.5}, "encoding": {"text": {"field": "l1"}, "color": {"condition": [{"test": "datum.imp === 1", "value": "#3c55b2"}, {"test": "datum.imp === 2", "value": "#1c2b5a"}], "value": "#9c4f24"}}},
            {"mark": {"type": "text", "dy": 6.5}, "encoding": {"text": {"field": "l2"}, "color": {"condition": [{"test": "datum.imp === 1", "value": "#3c55b2"}, {"test": "datum.imp === 2", "value": "#1c2b5a"}], "value": "#9c4f24"}}}
          ]
        },
        {
          "width": 166, "height": 170,
          "title": {"text": "Subspace KNN", "color": "#8a6b2e"},
          "data": {"name": "cm"},
          "transform": [
            {"filter": "datum.set === 'B' && datum.model === 'Subspace KNN'"},
            {"calculate": "indexof(['mRS','mFB','mLS','mRB'], datum.t) === indexof(['mRB','mFB','mLS','mRS'], datum.p)", "as": "diag"},
            {"calculate": "format(datum.m, '.1f') + '%'", "as": "l1"},
            {"calculate": "'±' + format(datum.s, '.1f')", "as": "l2"}
          ],
          "encoding": {
            "x": {"field": "p", "type": "nominal", "sort": ["mRB","mFB","mLS","mRS"], "title": "Predict", "axis": {"labelColor": "#8a6b2e", "titleColor": "#8a6b2e"}},
            "y": {"field": "t", "type": "nominal", "sort": ["mRS","mFB","mLS","mRB"], "title": "Target", "axis": {"labelColor": "#8a6b2e", "titleColor": "#8a6b2e"}}
          },
          "layer": [
            {"mark": {"type": "rect", "stroke": "#806328", "strokeWidth": 1.5}, "encoding": {"fill": {"condition": {"test": "datum.diag", "value": "#fdf1cc"}, "value": "#f6cd5f"}}},
            {"mark": {"type": "text", "dy": -6.5}, "encoding": {"text": {"field": "l1"}, "color": {"condition": [{"test": "datum.imp === 1", "value": "#3c55b2"}, {"test": "datum.imp === 2", "value": "#1c2b5a"}], "value": "#7d6428"}}},
            {"mark": {"type": "text", "dy": 6.5}, "encoding": {"text": {"field": "l2"}, "color": {"condition": [{"test": "datum.imp === 1", "value": "#3c55b2"}, {"test": "datum.imp === 2", "value": "#1c2b5a"}], "value": "#7d6428"}}}
          ]
        }
      ]
    }
  ],
  "config": {
    "view": {"stroke": null},
    "axis": {
      "domain": false,
      "ticks": false,
      "grid": false,
      "labelFont": "Liberation Serif",
      "labelFontWeight": "bold",
      "labelFontSize": 13,
      "labelPadding": 4,
      "titleFont": "Liberation Serif",
      "titleFontWeight": "bold",
      "titleFontSize": 13,
      "titlePadding": 2
    },
    "axisX": {"labelAngle": 0},
    "axisY": {"labelAngle": -90, "titlePadding": 3},
    "title": {"font": "Liberation Serif", "fontSize": 18, "fontWeight": "bold", "offset": 2},
    "text": {"font": "DejaVu Sans Condensed, Liberation Sans Narrow, sans-serif", "fontSize": 12.5}
  }
}
